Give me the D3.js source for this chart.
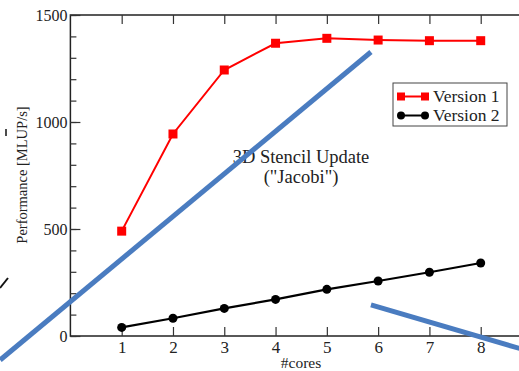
<!DOCTYPE html>
<html>
<head>
<meta charset="utf-8">
<script src="https://cdn.jsdelivr.net/npm/d3@7"></script>
<style>
  body { margin: 0; background: #fff; }
  svg { display: block; }
  svg text { font-family: "Liberation Serif", "Times New Roman", serif; }
</style>
</head>
<body>
<script>
// data
const cores = [1, 2, 3, 4, 5, 6, 7, 8]
const version1 = [490, 944, 1243, 1368, 1391, 1383, 1380, 1380]
const version2 = [40, 83, 129, 171, 218, 257, 298, 341]
const xTicks = [1, 2, 3, 4, 5, 6, 7, 8]
const yTicks = [0, 500, 1000, 1500]
const seriesNames = ['Version 1', 'Version 2']
// blue pen strokes drawn over the figure, in data units
const strokes = [
  [[-1.37, -112], [5.86, 1327]],
  [[5.86, 145], [9.0, -75]]
]

const dim = { width: 519, height: 371 }
const svg = d3.select('body').append('svg').attr('width', dim.width).attr('height', dim.height)

const x = d3.scaleLinear([0, 9], [70.4, 532])
const y = d3.scaleLinear([0, 1500], [336, 15])

// frame
svg.append('rect').attr('x', x(0)).attr('y', y(1500))
  .attr('width', x(9) - x(0)).attr('height', y(0) - y(1500))
  .attr('fill', 'none').attr('stroke', '#222').attr('stroke-width', 1.5)

// x ticks bottom and top (inward)
const xb = d3.axisBottom(x).tickValues(xTicks).tickSize(-9).tickSizeOuter(0).tickPadding(5)
const xAxis = svg.append('g').attr('transform', `translate(0,${y(0)})`).call(xb)
xAxis.select('.domain').remove()
xAxis.selectAll('line').attr('stroke', '#333').attr('stroke-width', 1.2)
xAxis.selectAll('text').attr('font-size', 17).attr('fill', '#222')

const xt = d3.axisTop(x).tickValues(xTicks).tickSize(-9).tickSizeOuter(0).tickFormat('')
const xTop = svg.append('g').attr('transform', `translate(0,${y(1500)})`).call(xt)
xTop.select('.domain').remove()
xTop.selectAll('line').attr('stroke', '#333').attr('stroke-width', 1.2)

// y minor ticks
const yMinor = d3.axisLeft(y).tickValues(d3.range(0, 1501, 100)).tickSize(-6).tickSizeOuter(0).tickFormat('')
const ym = svg.append('g').attr('transform', `translate(${x(0)},0)`).call(yMinor)
ym.select('.domain').remove()
ym.selectAll('line').attr('stroke', '#333').attr('stroke-width', 1.2)

const yMajor = d3.axisLeft(y).tickValues(yTicks).tickSize(-10).tickSizeOuter(0).tickPadding(3).tickFormat(d3.format('d'))
const yM = svg.append('g').attr('transform', `translate(${x(0)},0)`).call(yMajor)
yM.select('.domain').remove()
yM.selectAll('line').attr('stroke', '#333').attr('stroke-width', 1.2)
yM.selectAll('text').attr('font-size', 16).attr('fill', '#222')

// axis titles
svg.append('text').attr('x', 301).attr('y', 368).attr('text-anchor', 'middle')
  .attr('font-size', 15.5).attr('fill', '#222').text('#cores')
svg.append('text').attr('transform', 'translate(27,175) rotate(-90)').attr('text-anchor', 'middle')
  .attr('font-size', 14.5).attr('fill', '#222').text('Performance [MLUP/s]')

// annotation
svg.append('text').attr('x', 301).attr('y', 163).attr('text-anchor', 'middle')
  .attr('font-size', 18.5).attr('fill', '#222').text('3D Stencil Update')
svg.append('text').attr('x', 301).attr('y', 183).attr('text-anchor', 'middle')
  .attr('font-size', 18.5).attr('fill', '#222').text('("Jacobi")')

const line = d3.line().x(d => x(d[0])).y(d => y(d[1]))

// version 1
const v1 = cores.map((c, i) => [c, version1[i]])
svg.append('path').attr('d', line(v1)).attr('fill', 'none').attr('stroke', '#ff0000').attr('stroke-width', 2)
svg.selectAll('rect.v1').data(v1).enter().append('rect').attr('class', 'v1')
  .attr('x', d => x(d[0]) - 4.5).attr('y', d => y(d[1]) - 4.5)
  .attr('width', 9).attr('height', 9).attr('fill', '#ff0000')

// version 2
const v2 = cores.map((c, i) => [c, version2[i]])
svg.append('path').attr('d', line(v2)).attr('fill', 'none').attr('stroke', '#000').attr('stroke-width', 2.2)
svg.selectAll('circle.v2').data(v2).enter().append('circle').attr('class', 'v2')
  .attr('cx', d => x(d[0])).attr('cy', d => y(d[1])).attr('r', 4.5).attr('fill', '#000')

// legend
const lg = svg.append('g').attr('transform', 'translate(393,83)')
lg.append('rect').attr('width', 114).attr('height', 43).attr('fill', '#fff')
  .attr('stroke', '#444').attr('stroke-width', 1)
seriesNames.forEach((name, i) => {
  const cy = 13.5 + i * 19
  const col = i === 0 ? '#ff0000' : '#000'
  lg.append('line').attr('x1', 8).attr('x2', 32).attr('y1', cy).attr('y2', cy).attr('stroke', col).attr('stroke-width', 2)
  if (i === 0) {
    ;[8, 32].forEach(px => lg.append('rect').attr('x', px - 4).attr('y', cy - 4).attr('width', 8).attr('height', 8).attr('fill', col))
  } else {
    ;[8, 32].forEach(px => lg.append('circle').attr('cx', px).attr('cy', cy).attr('r', 4).attr('fill', col))
  }
  lg.append('text').attr('x', 40).attr('y', cy + 5.5).attr('font-size', 17.5).attr('fill', '#222').text(name)
})

// overlaid pen strokes
strokes.forEach(s => {
  svg.append('path').attr('d', line(s)).attr('fill', 'none')
    .attr('stroke', '#4a7cc0').attr('stroke-width', 5)
})
// small cut-off marks at left edge
svg.append('line').attr('x1', 0).attr('y1', 288).attr('x2', 8).attr('y2', 278).attr('stroke', '#111').attr('stroke-width', 2)
svg.append('line').attr('x1', 6).attr('y1', 129).attr('x2', 6).attr('y2', 136).attr('stroke', '#111').attr('stroke-width', 1.5)
</script>
</body>
</html>
